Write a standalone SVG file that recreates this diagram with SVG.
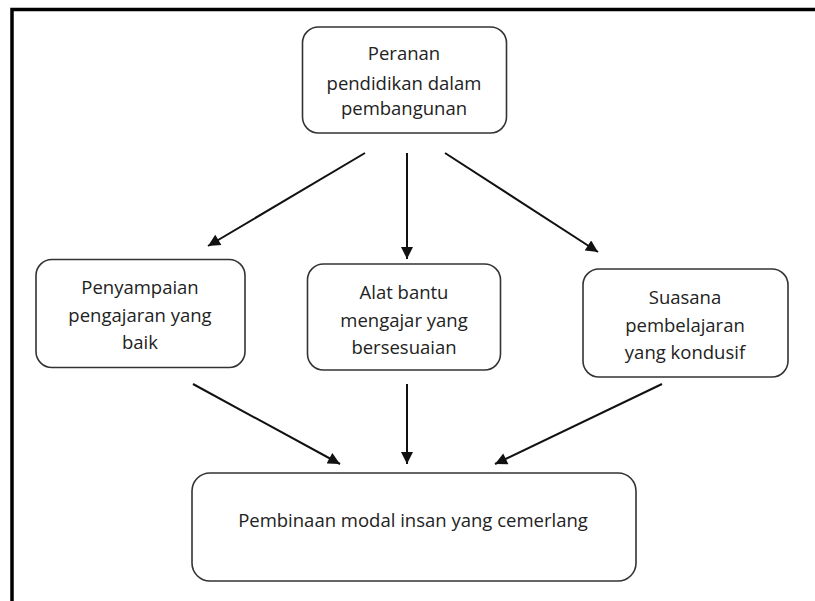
<svg xmlns="http://www.w3.org/2000/svg" width="815" height="601" viewBox="0 0 815 601">
<style>
.box{fill:#fff;stroke:#333;stroke-width:1.6}
.t{font-family:"Open Sans","Liberation Sans",sans-serif;font-size:18.5px;fill:#222;text-anchor:middle}
.c{stroke:#111;stroke-width:2;fill:none;marker-end:url(#ah)}
</style>
<defs>
<marker id="ah" viewBox="0 0 10 10" refX="10" refY="5" markerWidth="6.5" markerHeight="6" markerUnits="strokeWidth" orient="auto">
<path d="M0,0 L10,5 L0,10 Z" fill="#111"/>
</marker>
</defs>
<rect width="815" height="601" fill="#fff"/>
<path d="M12,601 L12,9.5 L815,9.5" fill="none" stroke="#000" stroke-width="3.5"/>
<g id="connectors">
<line class="c" x1="365" y1="153" x2="208" y2="246"/>
<line class="c" x1="407" y1="153" x2="407" y2="259"/>
<line class="c" x1="445" y1="153" x2="598" y2="252"/>
<line class="c" x1="193" y1="384" x2="340" y2="464"/>
<line class="c" x1="407" y1="384" x2="407" y2="464"/>
<line class="c" x1="662" y1="384" x2="495" y2="464"/>
</g>
<g id="n_top">
<rect class="box" x="302.5" y="27" width="204" height="106" rx="16"/>
<text class="t" x="404" y="60">Peranan</text>
<text class="t" x="404" y="90">pendidikan dalam</text>
<text class="t" x="404" y="115">pembangunan</text>
</g>
<g id="n_left">
<rect class="box" x="36" y="259.5" width="209" height="108" rx="16"/>
<text class="t" x="140" y="294">Penyampaian</text>
<text class="t" x="140" y="322">pengajaran yang</text>
<text class="t" x="140" y="349">baik</text>
</g>
<g id="n_mid">
<rect class="box" x="307.5" y="264" width="193" height="106" rx="16"/>
<text class="t" x="404" y="299">Alat bantu</text>
<text class="t" x="404" y="327">mengajar yang</text>
<text class="t" x="404" y="354">bersesuaian</text>
</g>
<g id="n_right">
<rect class="box" x="583" y="269" width="205" height="108" rx="16"/>
<text class="t" x="685" y="304">Suasana</text>
<text class="t" x="685" y="332">pembelajaran</text>
<text class="t" x="685" y="359">yang kondusif</text>
</g>
<g id="n_bottom">
<rect class="box" x="192" y="473" width="444" height="108" rx="18"/>
<text class="t" x="413" y="527">Pembinaan modal insan yang cemerlang</text>
</g>
</svg>
